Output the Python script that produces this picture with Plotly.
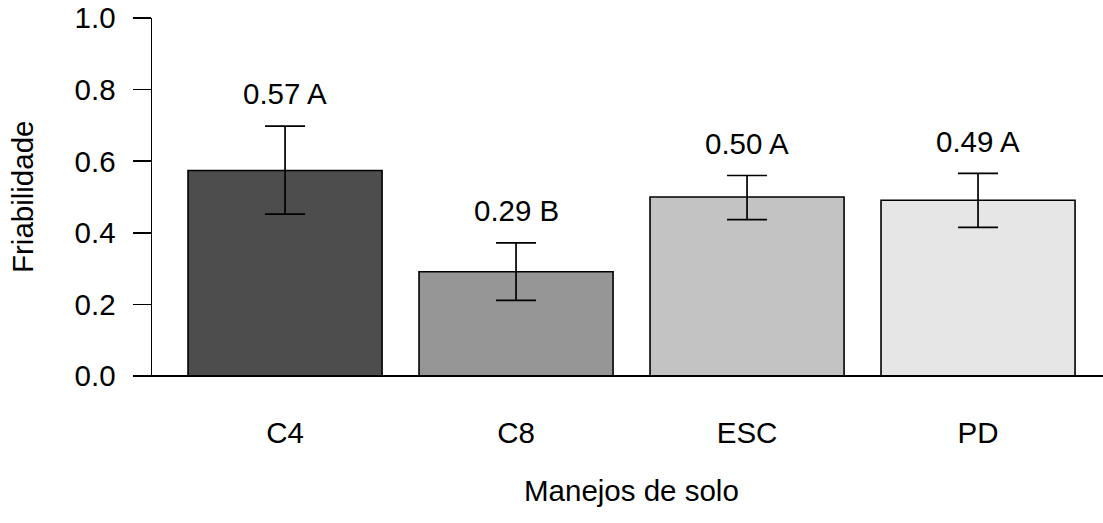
import plotly.graph_objects as go

# Data
categories = ["C4", "C8", "ESC", "PD"]
means = [0.574, 0.291, 0.500, 0.491]
err_upper = [0.124, 0.081, 0.060, 0.075]
err_lower = [0.122, 0.080, 0.063, 0.076]
letters = ["A", "B", "A", "A"]
bar_colors = ["#4D4D4D", "#969696", "#C3C3C3", "#E6E6E6"]
y_ticks = [0.0, 0.2, 0.4, 0.6, 0.8, 1.0]

FONT = "Liberation Sans, Arial, sans-serif"
FS = 29.5
label_offset = 0.09

fig = go.Figure()
fig.add_trace(go.Bar(
    x=categories,
    y=means,
    marker=dict(color=bar_colors, line=dict(color="black", width=1.6)),
    error_y=dict(type="data", symmetric=False, array=err_upper, arrayminus=err_lower,
                 color="black", thickness=1.7, width=20),
    showlegend=False,
    hoverinfo="skip",
))

annotations = []
for c, m, up, let in zip(categories, means, err_upper, letters):
    annotations.append(dict(
        x=c, y=m + up + label_offset, xref="x", yref="y",
        text=f"{m:.2f} {let}", showarrow=False,
        font=dict(family=FONT, size=FS, color="black"),
        xanchor="center", yanchor="middle",
    ))

# axis titles
annotations.append(dict(
    x=1.5, y=0, xref="x", yref="paper", yshift=-114,
    text="Manejos de solo", showarrow=False,
    font=dict(family=FONT, size=FS, color="black"),
    xanchor="center", yanchor="middle",
))
annotations.append(dict(
    x=-130 / 951, y=0.5, xref="paper", yref="paper",
    text="Friabilidade", showarrow=False, textangle=-90,
    font=dict(family=FONT, size=FS, color="black"),
    xanchor="center", yanchor="middle",
))

fig.update_layout(
    width=1103, height=523,
    margin=dict(l=152, r=0, t=18, b=147, pad=0),
    paper_bgcolor="white", plot_bgcolor="white",
    bargap=0.16,
    annotations=annotations,
    shapes=[dict(type="line", xref="paper", yref="paper",
                 x0=-18 / 951, x1=1, y0=0, y1=0,
                 line=dict(color="black", width=2))],
    font=dict(family=FONT, size=FS, color="black"),
)
fig.update_xaxes(
    range=[-0.576, 3.541],
    showgrid=False, zeroline=False, showline=False,
    ticks="", ticklabelstandoff=36,
    tickfont=dict(family=FONT, size=FS, color="black"),
)
fig.update_yaxes(
    range=[0, 1.0],
    tickvals=y_ticks, ticktext=[f"{v:.1f}" for v in y_ticks],
    showgrid=False, zeroline=False,
    showline=True, linecolor="black", linewidth=1.5,
    ticks="outside", ticklen=18, tickwidth=1.5, tickcolor="black",
    ticklabelstandoff=11,
    tickfont=dict(family=FONT, size=FS, color="black"),
)

fig.write_html("out.html",
               config={"displayModeBar": False, "staticPlot": True},
               post_script="document.body.style.margin='0';document.body.style.overflow='hidden';")
